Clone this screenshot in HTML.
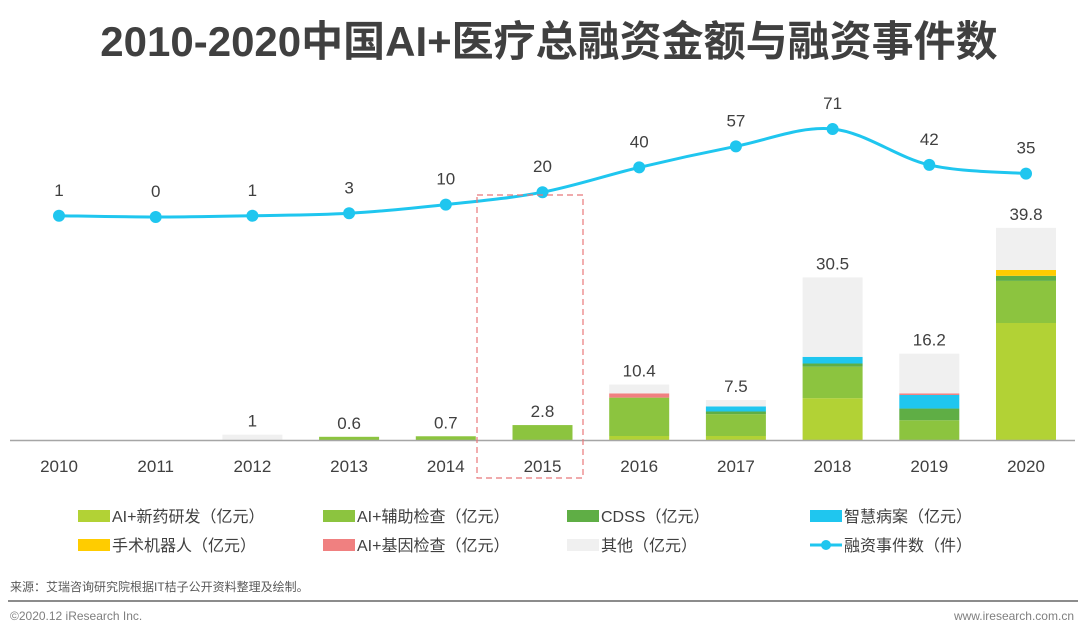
<!DOCTYPE html>
<html><head><meta charset="utf-8"><style>
body{margin:0;background:#fff;width:1080px;height:636px;overflow:hidden;font-family:"Liberation Sans","Noto Sans CJK SC",sans-serif}
svg text{font-family:"Liberation Sans","Noto Sans CJK SC",sans-serif}
</style></head><body>
<svg width="1080" height="636">
<text x="549" y="56" text-anchor="middle" font-size="42" font-weight="bold" fill="#404040">2010-2020中国AI+医疗总融资金额与融资事件数</text>
<g id="bars"></g>
<line x1="10" y1="440.5" x2="1075" y2="440.5" stroke="#a6a6a6" stroke-width="1.5"/>
<g id="xlabels"></g>
<g id="line"></g>
<rect x="477" y="195" width="106" height="283" fill="none" stroke="#e8777a" stroke-width="1.2" stroke-dasharray="6,4"/>
<g id="legend"></g>
<text x="10" y="591" font-size="12" fill="#595959">来源：艾瑞咨询研究院根据IT桔子公开资料整理及绘制。</text>
<line x1="8" y1="601" x2="1078" y2="601" stroke="#8c8c8c" stroke-width="2"/>
<text x="10" y="620" font-size="12" fill="#7f7f7f">©2020.12 iResearch Inc.</text>
<text x="1074" y="620" font-size="12" fill="#7f7f7f" text-anchor="end">www.iresearch.com.cn</text>
</svg>
<script>
const years=["2010","2011","2012","2013","2014","2015","2016","2017","2018","2019","2020"];
const drug=[0,0,0,0,0,0,0.75,0.75,7.85,0,21.95];
const aux=[0,0,0,0.6,0.7,2.8,7.2,4.1,5.9,3.7,7.9];
const cdss=[0,0,0,0,0,0,0,0.5,0.6,2.2,0.95];
const record=[0,0,0,0,0,0,0,0.95,1.25,2.55,0];
const surgery=[0,0,0,0,0,0,0,0,0,0,1.1];
const gene=[0,0,0,0,0,0,0.8,0,0,0.3,0];
const other=[0,0,1,0,0,0,1.65,1.2,14.9,7.45,7.9];
const totals=["","","1","0.6","0.7","2.8","10.4","7.5","30.5","16.2","39.8"];
const events=[1,0,1,3,10,20,40,57,71,42,35];
const NS="http://www.w3.org/2000/svg";
const xC=i=>59+i*96.7;
const yB=v=>440-v*5.33;
const yL=v=>217-v*1.24;
function mk(tag,attrs,parent){const e=document.createElementNS(NS,tag);for(const k in attrs)e.setAttribute(k,attrs[k]);parent.appendChild(e);return e;}
const series=[["drug",drug,"#b2d235"],["aux",aux,"#8cc43f"],["cdss",cdss,"#5fae45"],["record",record,"#1fc6ef"],["surgery",surgery,"#ffcc00"],["gene",gene,"#f08080"],["other",other,"#f0f0f0"]];
const bars=document.getElementById('bars');
years.forEach((y,i)=>{let acc=0;
 series.forEach(([n,arr,c])=>{const v=arr[i];if(v>0){const r=mk('rect',{x:xC(i)-30,y:yB(acc+v),width:60,height:yB(acc)-yB(acc+v),fill:c},bars);
 
 }acc+=v;});
 if(totals[i]){const t=mk('text',{x:xC(i),y:yB(acc)-8,'text-anchor':'middle','font-size':17,fill:'#404040'},bars);t.textContent=totals[i];
 
 }
});
const xl=document.getElementById('xlabels');
years.forEach((y,i)=>{const t=mk('text',{x:xC(i),y:472,'text-anchor':'middle','font-size':17,fill:'#404040'},xl);t.textContent=y;
 
 });
const lg=document.getElementById('line');
const pts=events.map((v,i)=>[xC(i),yL(v)]);
let d='M'+pts[0][0]+','+pts[0][1];
for(let i=0;i<pts.length-1;i++){const p0=pts[i-1]||pts[i],p1=pts[i],p2=pts[i+1],p3=pts[i+2]||p2;
 d+=' C'+(p1[0]+(p2[0]-p0[0])/6)+','+(p1[1]+(p2[1]-p0[1])/6)+' '+(p2[0]-(p3[0]-p1[0])/6)+','+(p2[1]-(p3[1]-p1[1])/6)+' '+p2[0]+','+p2[1];}
const path=mk('path',{d:d,fill:'none',stroke:'#1fc6ef','stroke-width':3},lg);


events.forEach((v,i)=>{const c=mk('circle',{cx:pts[i][0],cy:pts[i][1],r:6,fill:'#1fc6ef'},lg);
 
 
 const t=mk('text',{x:pts[i][0],y:pts[i][1]-20,'text-anchor':'middle','font-size':17,fill:'#404040'},lg);t.textContent=v;
 
 });
const legItems=[["AI+新药研发（亿元）","#b2d235",78,516],["AI+辅助检查（亿元）","#8cc43f",323,516],["CDSS（亿元）","#5fae45",567,516],["智慧病案（亿元）","#1fc6ef",810,516],["手术机器人（亿元）","#ffcc00",78,545],["AI+基因检查（亿元）","#f08080",323,545],["其他（亿元）","#f0f0f0",567,545],["融资事件数（件）","line",810,545]];
const leg=document.getElementById('legend');
legItems.forEach(([lab,c,x,y])=>{const g=mk('g',{},leg);
 
 
 if(c==='line'){mk('line',{x1:x,y1:y,x2:x+32,y2:y,stroke:'#1fc6ef','stroke-width':3},g);mk('circle',{cx:x+16,cy:y,r:5,fill:'#1fc6ef'},g);}
 else mk('rect',{x:x,y:y-6,width:32,height:12,fill:c},g);
 const t=mk('text',{x:x+34,y:y+6,'font-size':16,fill:'#404040'},g);t.textContent=lab;});
</script>
</body></html>
